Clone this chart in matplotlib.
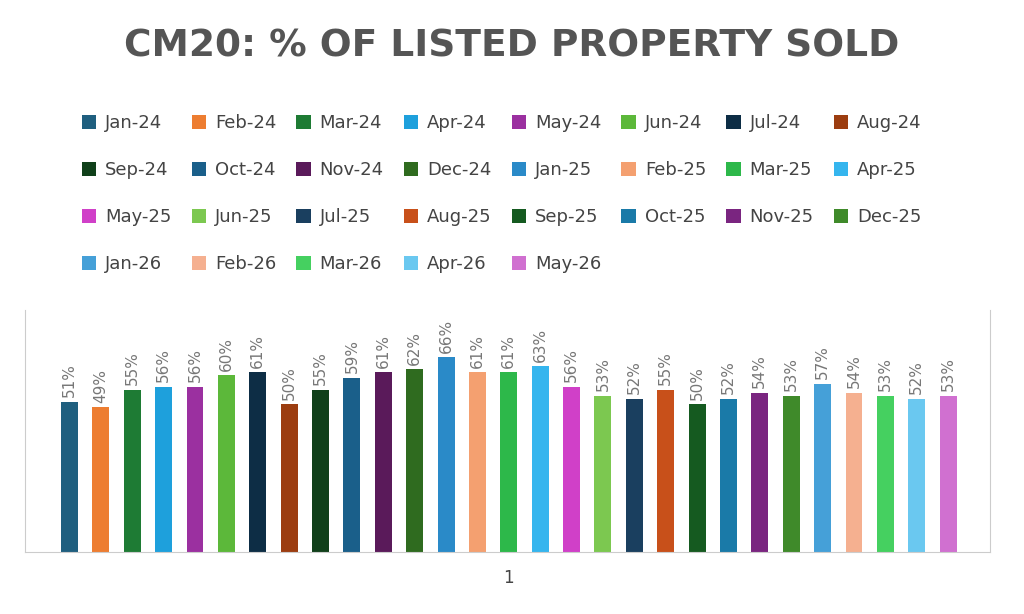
import matplotlib.pyplot as plt
from matplotlib.patches import Patch

months = ["Jan-24", "Feb-24", "Mar-24", "Apr-24", "May-24", "Jun-24", "Jul-24", "Aug-24",
          "Sep-24", "Oct-24", "Nov-24", "Dec-24", "Jan-25", "Feb-25", "Mar-25", "Apr-25",
          "May-25", "Jun-25", "Jul-25", "Aug-25", "Sep-25", "Oct-25", "Nov-25", "Dec-25",
          "Jan-26", "Feb-26", "Mar-26", "Apr-26", "May-26"]
sold_pct = [51, 49, 55, 56, 56, 60, 61, 50, 55, 59, 61, 62, 66, 61, 61, 63,
            56, 53, 52, 55, 50, 52, 54, 53, 57, 54, 53, 52, 53]
colors = ["#1f5f7f", "#ed7d31", "#1e7b34", "#1ea0dc", "#9b30a0", "#5cb83a", "#0d2d45", "#9c3d10",
          "#10401a", "#1a5f8a", "#5a1a5a", "#2f6b1f", "#2a8ac8", "#f4a070", "#2db84a", "#35b5ee",
          "#d040c8", "#7cc850", "#1a3f5f", "#c8501a", "#155a20", "#1a7aa8", "#7a2580", "#3f8a2a",
          "#45a0d8", "#f5b090", "#45d060", "#6ac8f0", "#d070d0"]

fig = plt.figure(figsize=(10.24, 6.14), dpi=100)
fig.text(0.5, 0.925, "CM20: % OF LISTED PROPERTY SOLD", ha="center", va="center",
         fontsize=27, fontweight="bold", color="#555555")

ax = fig.add_axes([0.024, 0.101, 0.943, 0.394])
x = list(range(len(months)))
ax.bar(x, sold_pct, width=0.54, color=colors)
for xi, v in zip(x, sold_pct):
    ax.text(xi, v + 1.5, f"{v}%", rotation=90, ha="center", va="bottom",
            fontsize=11, color="#777777")
ax.set_xlim(-1.43, 29.34)
ax.set_ylim(0, 82)
ax.set_yticks([])
ax.set_xticks([(len(months) - 1) / 2])
ax.set_xticklabels(["1"], fontsize=12, color="#444444")
ax.tick_params(axis="x", length=0, pad=12)
ax.spines["top"].set_visible(False)
for s in ["left", "right", "bottom"]:
    ax.spines[s].set_color("#cccccc")

# legend fills column by column, so reorder to read row by row
ncol = 8
order = [r * ncol + c for c in range(ncol) for r in range(4) if r * ncol + c < len(months)]
handles = [Patch(facecolor=colors[i]) for i in order]
labels = [months[i] for i in order]
fig.legend(handles, labels, loc="upper center", bbox_to_anchor=(0.49, 0.84), ncol=ncol,
           frameon=False, fontsize=13, handlelength=0.8, handleheight=0.8,
           handletextpad=0.5, columnspacing=1.1, labelspacing=1.6, labelcolor="#444444")

fig.savefig("out.png")
